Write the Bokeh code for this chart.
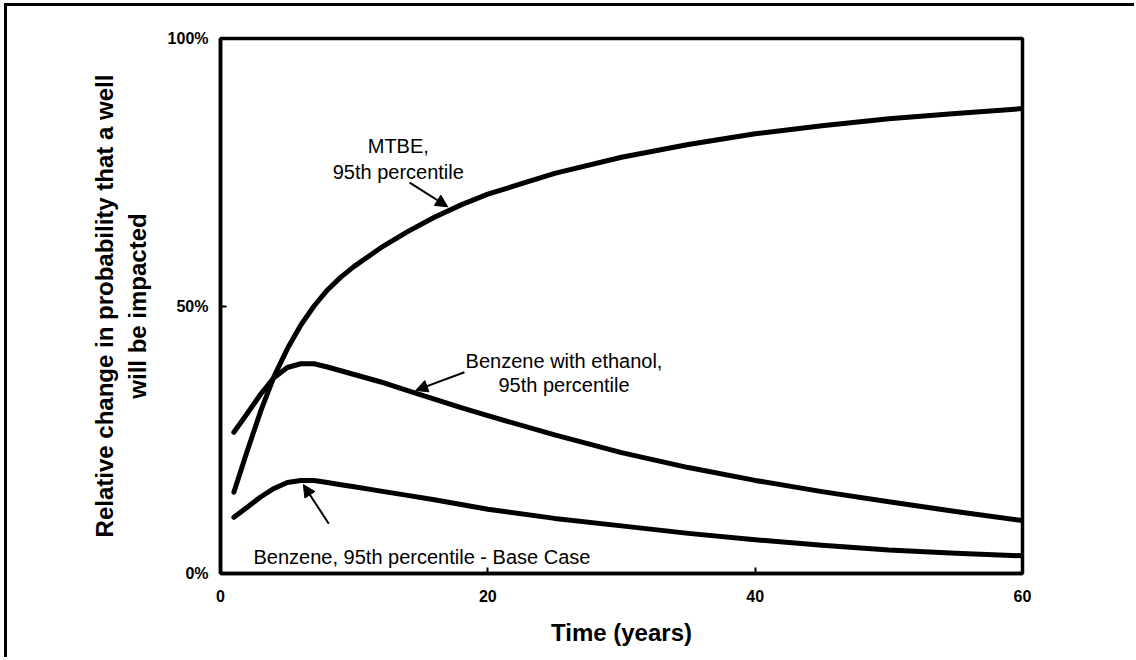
import numpy as np
from bokeh.plotting import figure
from bokeh.models import Range1d, FixedTicker, PrintfTickFormatter, Label, Arrow, NormalHead
from bokeh.embed import file_html
from bokeh.resources import INLINE

# ---- data ----
years = [1, 2, 3, 4, 5, 6, 7, 8, 9, 10, 12, 14, 16, 18, 20, 25, 30, 35, 40, 45, 50, 55, 60]
mtbe = [15.2, 22.9, 30.3, 36.8, 42.0, 46.4, 50.0, 53.0, 55.4, 57.4, 60.9, 63.9, 66.6, 68.9, 70.9,
        74.8, 77.8, 80.2, 82.2, 83.7, 85.0, 86.0, 86.9]
ethanol = [26.4, 29.9, 33.5, 36.6, 38.5, 39.2, 39.2, 38.6, 37.9, 37.2, 35.8, 34.2, 32.6, 31.0, 29.5,
           25.9, 22.6, 19.8, 17.4, 15.3, 13.4, 11.6, 9.9]
base = [10.5, 12.4, 14.3, 15.9, 17.0, 17.4, 17.4, 17.0, 16.6, 16.2, 15.4, 14.6, 13.8, 12.9, 12.0,
        10.3, 8.9, 7.5, 6.3, 5.3, 4.4, 3.8, 3.3]
x_ticks = [0, 20, 40, 60]
y_ticks = [0, 50, 100]

FONT = "Liberation Sans"

p = figure(frame_width=802, frame_height=535,
           min_border_left=213, min_border_top=32, min_border_right=112, min_border_bottom=84,
           x_range=Range1d(0, 60), y_range=Range1d(0, 100),
           output_backend="svg", toolbar_location=None)
p.styles = {"border-left": "3px solid black", "border-top": "3px solid black",
            "margin-left": "4px", "margin-top": "3px"}

p.background_fill_color = "white"
p.border_fill_color = "white"
p.grid.visible = False
p.outline_line_color = "black"
p.outline_line_width = 3.5

for ax in (p.xaxis, p.yaxis):
    ax.axis_line_color = "black"
    ax.axis_line_width = 3.5
    ax.major_tick_in = 6
    ax.major_tick_out = 0
    ax.major_tick_line_width = 2
    ax.major_tick_line_color = "black"
    ax.minor_tick_line_color = None
    ax.major_label_text_font = FONT
    ax.major_label_text_font_style = "bold"
    ax.major_label_text_font_size = "16px"
    ax.major_label_text_color = "black"

p.xaxis.ticker = FixedTicker(ticks=x_ticks)
p.yaxis.ticker = FixedTicker(ticks=y_ticks)
p.yaxis.formatter = PrintfTickFormatter(format="%d%%")
p.xaxis.major_label_standoff = 16
p.yaxis.major_label_standoff = 12

for ax in (p.xaxis, p.yaxis):
    ax.axis_label_text_font = FONT
    ax.axis_label_text_font_style = "bold"
    ax.axis_label_text_font_size = "24px"
    ax.axis_label_text_color = "black"
p.xaxis.axis_label = "Time (years)"
p.xaxis.axis_label_standoff = 14
p.yaxis.axis_label = "Relative change in probability that a well\nwill be impacted"
p.yaxis.axis_label_standoff = 14

# ---- curves ----
for series in (mtbe, ethanol, base):
    p.line(years, series, line_color="black", line_width=5, line_cap="round", line_join="round")

# ---- arrows (tip located on the curve) ----
arrow_specs = [(mtbe, 17.0, 0.8, -2.85, 4.5),
               (ethanol, 14.6, 0.5, 3.65, 3.4),
               (base, 6.2, -0.8, 1.9, -7.3)]
for series, t, dy, dx_tail, dy_tail in arrow_specs:
    tip_y = float(np.interp(t, years, series)) + dy
    p.add_layout(Arrow(end=NormalHead(size=12, fill_color="black", line_color="black"),
                       x_start=t + dx_tail, y_start=tip_y + dy_tail, x_end=t, y_end=tip_y,
                       line_color="black", line_width=2))

# ---- annotation texts ----
def add_text(x, y, txt, align="center"):
    p.add_layout(Label(x=x, y=y, text=txt, text_align=align, text_baseline="alphabetic",
                       text_font=FONT, text_font_size="20px", text_color="black"))

add_text(13.3, 80.0, "MTBE,")
add_text(13.3, 75.1, "95th percentile")
add_text(25.7, 39.8, "Benzene with ethanol,")
add_text(25.7, 35.3, "95th percentile")
add_text(2.47, 3.0, "Benzene, 95th percentile - Base Case", align="left")

open("out.html", "w").write(file_html(p, INLINE))
